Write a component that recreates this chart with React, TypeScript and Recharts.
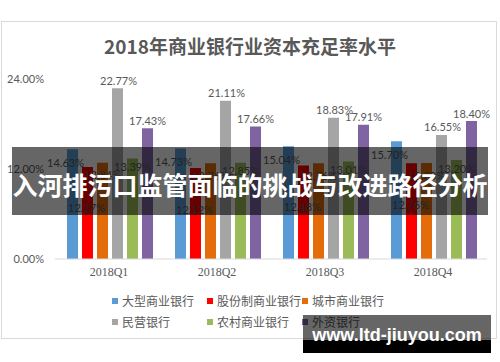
import { BarChart, Bar, XAxis, YAxis, LabelList } from 'recharts'

const QUARTERS = ['2018Q1', '2018Q2', '2018Q3', '2018Q4']
const LARGE = [14.63, 14.73, 15.04, 15.7]
const JOINT = [12.27, 12.12, 12.48, 12.76]
const CITY = [12.84, 12.76, 12.76, 12.8]
const PRIVATE = [22.77, 21.11, 18.83, 16.55]
const RURAL = [13.39, 12.85, 13.01, 13.2]
const FOREIGN = [17.43, 17.66, 17.91, 18.4]
const Y_TICKS = [0, 12, 24]

const TITLE = '2018年商业银行业资本充足率水平'
const BANNER = '入河排污口监管面临的挑战与改进路径分析'
const WATERMARK = 'www.ltd-jiuyou.com'

// label offsets mimic the hand-placed Excel data labels
const SERIES = [
  { key: 'large', name: '大型商业银行', values: LARGE, color: '#5b9bd5', dx: -7, dy: 13 },
  { key: 'joint', name: '股份制商业银行', values: JOINT, color: '#ff0000', dx: -1, dy: 41 },
  { key: 'city', name: '城市商业银行', values: CITY, color: '#e46c0a', dx: 0, dy: 12 },
  { key: 'private', name: '民营银行', values: PRIVATE, color: '#a5a5a5', dx: 1, dy: -8 },
  { key: 'rural', name: '农村商业银行', values: RURAL, color: '#9bbb59', dx: 0, dy: 8 },
  { key: 'foreign', name: '外资银行', values: FOREIGN, color: '#8064a2', dx: 0, dy: -8 },
]

const data = QUARTERS.map((q, i) => {
  const row: Record<string, string | number> = { quarter: q }
  SERIES.forEach((s) => (row[s.key] = s.values[i]))
  return row
})

const TEXT = '#595959'
const NUM_FONT = 'Lato, "Liberation Sans", sans-serif'
const CJK_FONT = '"Liberation Serif", "Noto Sans CJK SC", serif'

function pct(v: unknown) {
  return `${Number(v).toFixed(2)}%`
}

function makeLabel(dx: number, dy: number) {
  return (props: any) => {
    const { x, y, width, value } = props
    return (
      <text
        x={Number(x) + Number(width) / 2 + dx}
        y={Number(y) + dy}
        textAnchor="middle"
        dominantBaseline="central"
        fontSize={11}
        fontFamily={NUM_FONT}
        fill={TEXT}
      >
        {pct(value)}
      </text>
    )
  }
}

export default function App() {
  return (
    <div style={{ position: 'absolute', left: 0, top: 0, width: 500, height: 362, background: '#fff', overflow: 'hidden' }}>
      <div style={{ position: 'absolute', left: 1, top: 21, width: 494, height: 316, border: '1px solid #d9d9d9' }} />
      <div
        style={{
          position: 'absolute', left: 0, top: 33, width: 500, textAlign: 'center',
          fontSize: 19, fontWeight: 'bold', color: TEXT, fontFamily: '"Noto Sans CJK SC", sans-serif', lineHeight: '26px',
        }}
      >
        {TITLE}
      </div>
      <div style={{ position: 'absolute', left: 0, top: 0 }}>
        <BarChart width={500} height={362} data={data} margin={{ top: 79, right: 13, left: 5, bottom: 73 }} barCategoryGap={12} barGap={4}>
          <XAxis
            dataKey="quarter"
            height={30}
            axisLine={{ stroke: '#d9d9d9' }}
            tickLine={false}
            tick={{ fontSize: 12, fill: TEXT, fontFamily: CJK_FONT }}
          />
          <YAxis
            width={50}
            domain={[0, 24]}
            ticks={Y_TICKS}
            tickFormatter={pct}
            axisLine={false}
            tickLine={false}
            tickMargin={5}
            tick={{ fontSize: 11, fill: TEXT, fontFamily: NUM_FONT }}
          />
          {SERIES.map((s) => (
            <Bar key={s.key} dataKey={s.key} name={s.name} fill={s.color} isAnimationActive={false}>
              <LabelList dataKey={s.key} content={makeLabel(s.dx, s.dy)} />
            </Bar>
          ))}
        </BarChart>
      </div>
      {SERIES.map((s, i) => (
        <div
          key={s.key}
          style={{
            position: 'absolute', left: 112 + (i % 3) * 95, top: 292 + Math.floor(i / 3) * 21,
            display: 'flex', alignItems: 'center', height: 18, whiteSpace: 'nowrap',
            fontSize: 12, color: TEXT, fontFamily: CJK_FONT,
          }}
        >
          <span style={{ display: 'inline-block', width: 6, height: 6, background: s.color, marginRight: 4 }} />
          {s.name}
        </div>
      ))}
      <div
        style={{
          position: 'absolute', left: 12, top: 147, width: 476, height: 68, boxSizing: 'border-box', paddingTop: 6,
          background: 'rgba(0,0,0,0.6)', color: '#fff', display: 'flex', alignItems: 'center', justifyContent: 'center',
          fontSize: 25, fontWeight: 'bold', fontFamily: '"Noto Sans CJK SC", sans-serif', whiteSpace: 'nowrap',
        }}
      >
        {BANNER}
      </div>
      <div style={{ position: 'absolute', left: 303, top: 315, width: 188, height: 25, background: 'rgba(0,0,0,0.6)' }} />
      <div style={{ position: 'absolute', left: 303, top: 340, width: 188, height: 13, background: '#000' }} />
      <div
        style={{
          position: 'absolute', left: 303, top: 322, width: 188, textAlign: 'center', lineHeight: '26px',
          color: '#fff', fontSize: 18, fontWeight: 'bold', fontFamily: '"Liberation Sans", sans-serif',
        }}
      >
        {WATERMARK}
      </div>
    </div>
  )
}
